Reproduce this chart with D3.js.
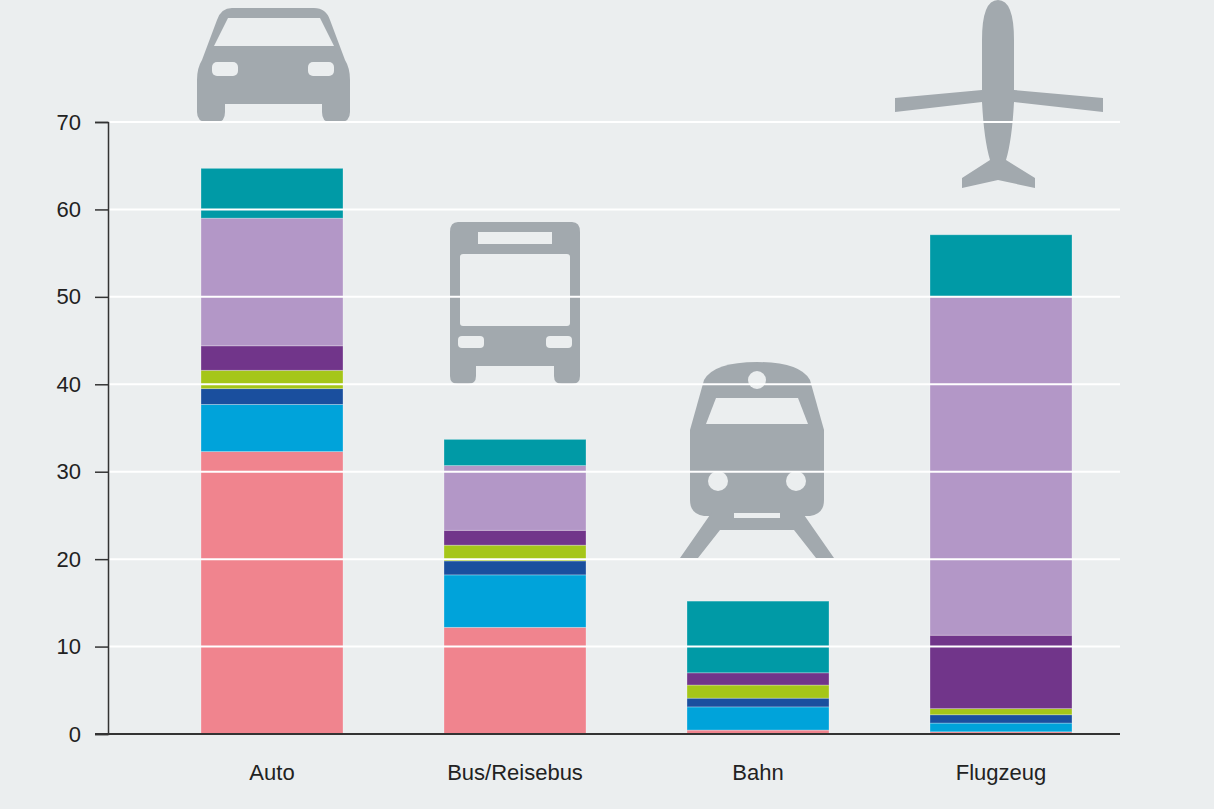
<!DOCTYPE html>
<html><head><meta charset="utf-8">
<script src="https://cdn.jsdelivr.net/npm/d3@7"></script>
<style>body{margin:0;background:#ebeeef}svg{display:block}text{font-family:"Liberation Sans",Arial,sans-serif}</style>
</head><body><svg id="c" width="1214" height="809"></svg>
<script>
const categories = ["Auto","Bus/Reisebus","Bahn","Flugzeug"];
const seriesNames = ["s1","s2","s3","s4","s5","s6","s7"];
const s1 = [32.3, 12.2, 0.45, 0.25];
const s2 = [5.4, 6.0, 2.65, 1.0];
const s3 = [1.8, 1.6, 1.0, 0.95];
const s4 = [2.1, 1.8, 1.5, 0.7];
const s5 = [2.8, 1.7, 1.4, 8.4];
const s6 = [14.6, 7.4, 0, 38.7];
const s7 = [5.7, 3.0, 8.2, 7.1];
const colors = ["#f0848e","#00a3da","#1a4f9e","#a5c619","#71358a","#b397c7","#009aa6"];
const yTicks = [0,10,20,30,40,50,60,70];

const series = [s1,s2,s3,s4,s5,s6,s7];
const rows = categories.map((c,i)=>{const r={cat:c};seriesNames.forEach((s,j)=>r[s]=series[j][i]);return r;});
const stacked = d3.stack().keys(seriesNames)(rows);

const svg = d3.select("#c");
const x = d3.scaleBand().domain(categories).range([150.5,1122.5]);
const y = d3.scaleLinear().domain([0,70]).range([734,122]);
const bw = 142;
const icon = "#a2a9ae";

// icons
const g = svg.append("g").attr("fill",icon);
// car
g.append("path").attr("d","M232 8 H314 Q326 8 330 20 L345 60 Q350 68 350 80 V112 Q350 122 340 122 H330 Q322 122 322 112 V104 H225 V112 Q225 122 217 122 H207 Q197 122 197 112 V80 Q197 68 202 60 L217 20 Q221 8 232 8 Z");
svg.append("path").attr("fill","#ebeeef").attr("d","M228 18 H320 L334 46 H214 Z");
svg.append("rect").attr("x",212).attr("y",62).attr("width",26).attr("height",14).attr("rx",5).attr("fill","#ebeeef");
svg.append("rect").attr("x",308).attr("y",62).attr("width",26).attr("height",14).attr("rx",5).attr("fill","#ebeeef");
// bus
g.append("path").attr("d","M458 222 H572 Q580 222 580 232 V376 Q580 384 572 384 H562 Q554 384 554 376 V366 H476 V376 Q476 384 468 384 H458 Q450 384 450 376 V232 Q450 222 458 222 Z");
svg.append("rect").attr("x",478).attr("y",232).attr("width",74).attr("height",12).attr("fill","#ebeeef");
svg.append("rect").attr("x",460).attr("y",254).attr("width",110).attr("height",72).attr("rx",3).attr("fill","#ebeeef");
svg.append("rect").attr("x",458).attr("y",336).attr("width",26).attr("height",12).attr("rx",4).attr("fill","#ebeeef");
svg.append("rect").attr("x",546).attr("y",336).attr("width",26).attr("height",12).attr("rx",4).attr("fill","#ebeeef");
// train
g.append("path").attr("d","M757 362 Q800 362 810 380 L824 430 V500 Q824 514 810 516 H704 Q690 514 690 500 V430 L704 380 Q714 362 757 362 Z");
g.append("path").attr("d","M712 512 L680 558 H698 L720 530 H794 L816 558 H834 L802 512 Z");
svg.append("path").attr("fill","#ebeeef").attr("d","M716 398 H798 L808 424 H706 Z");
svg.append("circle").attr("cx",757).attr("cy",380).attr("r",9).attr("fill","#ebeeef");
svg.append("circle").attr("cx",718).attr("cy",481).attr("r",10).attr("fill","#ebeeef");
svg.append("circle").attr("cx",796).attr("cy",481).attr("r",10).attr("fill","#ebeeef");
svg.append("rect").attr("x",734).attr("y",513).attr("width",46).attr("height",5).attr("fill","#ebeeef");
// plane
g.append("path").attr("d","M998 0 Q1014 0 1014 40 V90 L1103 98 V112 L1014 102 Q1012 140 1006 160 L1035 178 V188 L998 180 L962 188 V178 L990 160 Q984 140 982 102 L895 112 V98 L982 90 V40 Q982 0 998 0 Z");

// bars
svg.append("g").selectAll("g").data(stacked).join("g").attr("fill",(d,i)=>colors[i])
 .selectAll("rect").data(d=>d).join("rect")
 .attr("x",d=>x(d.data.cat)+x.bandwidth()/2-bw/2).attr("width",bw)
 .attr("y",d=>y(d[1])).attr("height",d=>Math.max(0,y(d[0])-y(d[1])))
 .attr("stroke","rgba(255,255,255,0.35)").attr("stroke-width",0.8);

// grid
svg.append("g").selectAll("line").data(yTicks.slice(1)).join("line")
 .attr("x1",108).attr("x2",1120).attr("y1",d=>y(d)).attr("y2",d=>y(d))
 .attr("stroke","#fff").attr("stroke-width",2);

// axes
const ya = svg.append("g").attr("transform","translate(108,0)")
 .call(d3.axisLeft(y).tickValues(yTicks).tickSize(13).tickPadding(14));
ya.select(".domain").attr("stroke","#333").attr("stroke-width",1.5);
ya.selectAll(".tick line").attr("stroke","#333").attr("stroke-width",1.5);
ya.selectAll("text").attr("font-size",22).attr("fill","#222");
svg.append("line").attr("x1",95).attr("x2",1120).attr("y1",734).attr("y2",734).attr("stroke","#333").attr("stroke-width",2);

svg.append("g").selectAll("text").data(categories).join("text")
 .attr("x",d=>x(d)+x.bandwidth()/2).attr("y",780).attr("text-anchor","middle")
 .attr("font-size",22).attr("fill","#222").text(d=>d);
</script></body></html>
